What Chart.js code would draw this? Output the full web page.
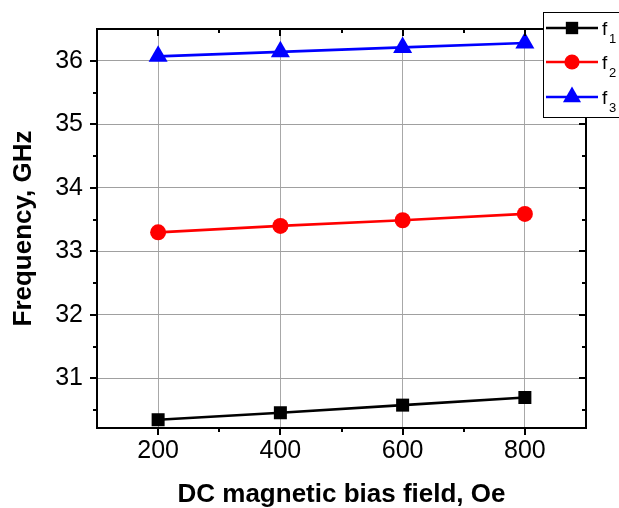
<!DOCTYPE html>
<html>
<head>
<meta charset="utf-8">
<script src="https://cdn.jsdelivr.net/npm/chart.js@4/dist/chart.umd.min.js"></script>
<style>
  html, body { margin: 0; padding: 0; background: #fff; }
  #wrap { width: 619px; height: 508px; position: relative; }
</style>
</head>
<body>
<div id="wrap"><canvas id="c" width="619" height="508"></canvas></div>
<script>
// ---- data ----
const fieldOe = [200, 400, 600, 800];
const f1 = [30.35, 30.46, 30.58, 30.70];
const f2 = [33.30, 33.40, 33.49, 33.59];
const f3 = [36.07, 36.14, 36.21, 36.28];
const seriesNames = ['f', 'f', 'f'];
const seriesSubs = ['1', '2', '3'];
const xMajorTicks = [200, 400, 600, 800];
const xMinorTicks = [300, 500, 700];
const yMajorTicks = [31, 32, 33, 34, 35, 36];
const yMinorTicks = [30.5, 31.5, 32.5, 33.5, 34.5, 35.5];
const xTitle = 'DC magnetic bias field, Oe';
const yTitle = 'Frequency, GHz';

const FONT = "'Liberation Sans', Arial, sans-serif";

function pts(ys) { return fieldOe.map((x, i) => ({ x: x, y: ys[i] })); }

const datasets = [
  { label: 'f1', data: pts(f1), borderColor: '#000000', backgroundColor: '#000000',
    pointStyle: 'rect', pointRadius: 9.2, pointHoverRadius: 9.2, borderWidth: 2.7, pointBorderWidth: 0 },
  { label: 'f2', data: pts(f2), borderColor: '#ff0000', backgroundColor: '#ff0000',
    pointStyle: 'circle', pointRadius: 8, pointHoverRadius: 8, borderWidth: 2.7, pointBorderWidth: 0 },
  { label: 'f3', data: pts(f3), borderColor: '#0000ff', backgroundColor: '#0000ff',
    pointStyle: 'triangle', pointRadius: 11, pointHoverRadius: 11, borderWidth: 2.7, pointBorderWidth: 0 }
];
datasets.forEach(d => { d.clip = false; d.tension = 0; d.fill = false; });

const framePlugin = {
  id: 'frame',
  afterDraw(chart) {
    const ctx = chart.ctx;
    const a = chart.chartArea;
    const xs = chart.scales.x, ys = chart.scales.y;
    ctx.save();
    ctx.strokeStyle = '#000';
    ctx.lineWidth = 2;
    ctx.lineCap = 'butt';
    const MAJ = 7, MIN = 4;
    ctx.beginPath();
    xMajorTicks.forEach(v => {
      const px = Math.round(xs.getPixelForValue(v));
      ctx.moveTo(px, a.bottom); ctx.lineTo(px, a.bottom + MAJ);
      ctx.moveTo(px, a.top); ctx.lineTo(px, a.top + MAJ);
    });
    xMinorTicks.forEach(v => {
      const px = Math.round(xs.getPixelForValue(v));
      ctx.moveTo(px, a.bottom); ctx.lineTo(px, a.bottom + MIN);
      ctx.moveTo(px, a.top); ctx.lineTo(px, a.top + MIN);
    });
    yMajorTicks.forEach(v => {
      const py = Math.round(ys.getPixelForValue(v));
      ctx.moveTo(a.left, py); ctx.lineTo(a.left - MAJ, py);
      ctx.moveTo(a.right, py); ctx.lineTo(a.right - MAJ, py);
    });
    yMinorTicks.forEach(v => {
      const py = Math.round(ys.getPixelForValue(v));
      ctx.moveTo(a.left, py); ctx.lineTo(a.left - MIN, py);
      ctx.moveTo(a.right, py); ctx.lineTo(a.right - MIN, py);
    });
    ctx.stroke();
    ctx.strokeRect(a.left, a.top, a.right - a.left, a.bottom - a.top);

    // legend
    const bx = 543.5, by = 12.5, bw = 90, bh = 105;
    ctx.fillStyle = '#fff';
    ctx.fillRect(bx, by, bw, bh);
    ctx.lineWidth = 1;
    ctx.strokeStyle = '#000';
    ctx.strokeRect(bx, by, bw, bh);
    const rowY = [28, 62, 97];
    chart.data.datasets.forEach((d, i) => {
      const y = rowY[i];
      ctx.strokeStyle = d.borderColor;
      ctx.lineWidth = 2.7;
      ctx.beginPath();
      ctx.moveTo(546, y); ctx.lineTo(598, y);
      ctx.stroke();
      ctx.fillStyle = d.backgroundColor;
      Chart.helpers.drawPoint(ctx, { pointStyle: d.pointStyle, rotation: 0, radius: d.pointRadius * 0.95, borderWidth: 0 }, 572, y);
      ctx.fillStyle = '#000';
      ctx.textAlign = 'left';
      ctx.textBaseline = 'alphabetic';
      ctx.font = '19px ' + FONT;
      ctx.fillText(seriesNames[i], 602, y + 7);
      ctx.font = '13px ' + FONT;
      ctx.fillText(seriesSubs[i], 609, y + 15);
    });
    ctx.restore();
  }
};

new Chart(document.getElementById('c'), {
  type: 'line',
  data: { datasets: datasets },
  options: {
    responsive: false,
    animation: false,
    devicePixelRatio: 1,
    layout: { padding: { top: 26, right: 33, left: 0, bottom: 0 } },
    plugins: { legend: { display: false }, tooltip: { enabled: false } },
    scales: {
      x: {
        type: 'linear', min: 100, max: 900,
        afterBuildTicks: s => { s.ticks = xMajorTicks.map(v => ({ value: v })); },
        afterFit: s => { s.height = 80; },
        grid: { color: '#a8a8a8', lineWidth: 1, drawTicks: false },
        border: { display: false },
        ticks: { font: { family: FONT, size: 25 }, color: '#000', padding: 8, maxRotation: 0, autoSkip: false },
        title: { display: true, text: xTitle, color: '#000',
                 font: { family: FONT, size: 26, weight: 'bold', lineHeight: 1 }, padding: { top: 0, bottom: 0 } }
      },
      y: {
        type: 'linear', min: 30.22, max: 36.5,
        afterBuildTicks: s => { s.ticks = yMajorTicks.map(v => ({ value: v })); },
        afterFit: s => { s.width = 97; },
        grid: { color: '#a0a0a0', lineWidth: 1, drawTicks: false },
        border: { display: false },
        ticks: { font: { family: FONT, size: 25 }, color: '#000', padding: 14, autoSkip: false },
        title: { display: true, text: yTitle, color: '#000',
                 font: { family: FONT, size: 26, weight: 'bold', lineHeight: 1 }, padding: { top: 11, bottom: 0 } }
      }
    }
  },
  plugins: [framePlugin]
});
</script>
</body>
</html>
